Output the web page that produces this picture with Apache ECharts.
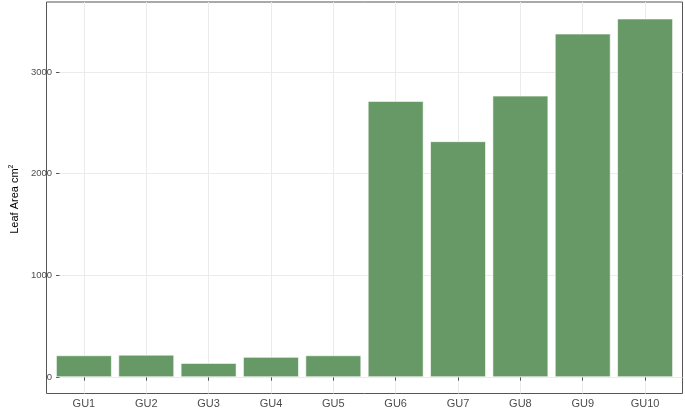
<!DOCTYPE html>
<html>
<head>
<meta charset="utf-8">
<script src="https://cdn.jsdelivr.net/npm/echarts@6/dist/echarts.min.js"></script>
<style>
  html, body { margin: 0; padding: 0; background: #fff; }
  #chart { width: 685px; height: 412px; }
</style>
</head>
<body>
<div id="chart"></div>
<script>
// leaf area per growth unit
const categories = ['GU1', 'GU2', 'GU3', 'GU4', 'GU5', 'GU6', 'GU7', 'GU8', 'GU9', 'GU10'];
const leafArea = [216, 222, 141, 200, 216, 2716, 2320, 2768, 3378, 3526];
const yTicks = [0, 1000, 2000, 3000];

const chart = echarts.init(document.getElementById('chart'));
const font = 'Liberation Sans, Arial, sans-serif';

chart.setOption({
    animation: false,
    grid: [
        // panel border
        { left: 46.5, right: 2.5, top: 2, bottom: 18.5, show: true, borderColor: '#555', borderWidth: 1, backgroundColor: 'transparent' },
        // bars + vertical grid lines (category centres)
        { left: 83.9, right: 39.9, top: 2, bottom: 18.5 },
        // horizontal grid lines + y labels
        { left: 46.5, right: 2.5, top: 21.1, bottom: 34.8 }
    ],
    xAxis: [
        { gridIndex: 0, type: 'value', show: false },
        {
            gridIndex: 1,
            type: 'category',
            data: categories,
            boundaryGap: false,
            axisLine: { show: false },
            axisTick: { show: true, length: 3.5, lineStyle: { color: '#555' } },
            axisLabel: { color: '#4d4d4d', fontSize: 11, fontFamily: font, margin: 5, interval: 0 },
            splitLine: { show: true, interval: 0, lineStyle: { color: '#ebebeb', width: 1 } }
        },
        { gridIndex: 2, type: 'value', show: false }
    ],
    yAxis: [
        { gridIndex: 0, type: 'value', show: false },
        { gridIndex: 1, type: 'value', show: false, min: -160, max: 3688 },
        {
            gridIndex: 2,
            type: 'value',
            min: 0,
            max: 3500,
            interval: 500,
            name: '{t|Leaf Area cm}{s|2}',
            nameLocation: 'middle',
            nameGap: 34,
            nameTextStyle: {
                rich: {
                    t: { fontSize: 11, color: '#000', fontFamily: font },
                    s: { fontSize: 7, color: '#000', fontFamily: font, verticalAlign: 'top', padding: [0, 0, 6, 0] }
                }
            },
            axisLine: { show: false },
            axisTick: { show: true, length: 3.5, customValues: yTicks, lineStyle: { color: '#555' } },
            axisLabel: {
                color: '#4d4d4d', fontSize: 9.5, fontFamily: font, margin: 7.5, customValues: yTicks,
                formatter: (v) => String(v)
            },
            splitLine: { show: true, lineStyle: { color: '#ebebeb', width: 1 } }
        }
    ],
    series: [
        {
            type: 'bar',
            xAxisIndex: 1,
            yAxisIndex: 1,
            data: leafArea,
            barWidth: 56,
            clip: false,
            itemStyle: { color: '#669966', borderColor: 'rgba(255,255,255,0.6)', borderWidth: 1 },
            z: 3
        }
    ]
});
</script>
</body>
</html>
